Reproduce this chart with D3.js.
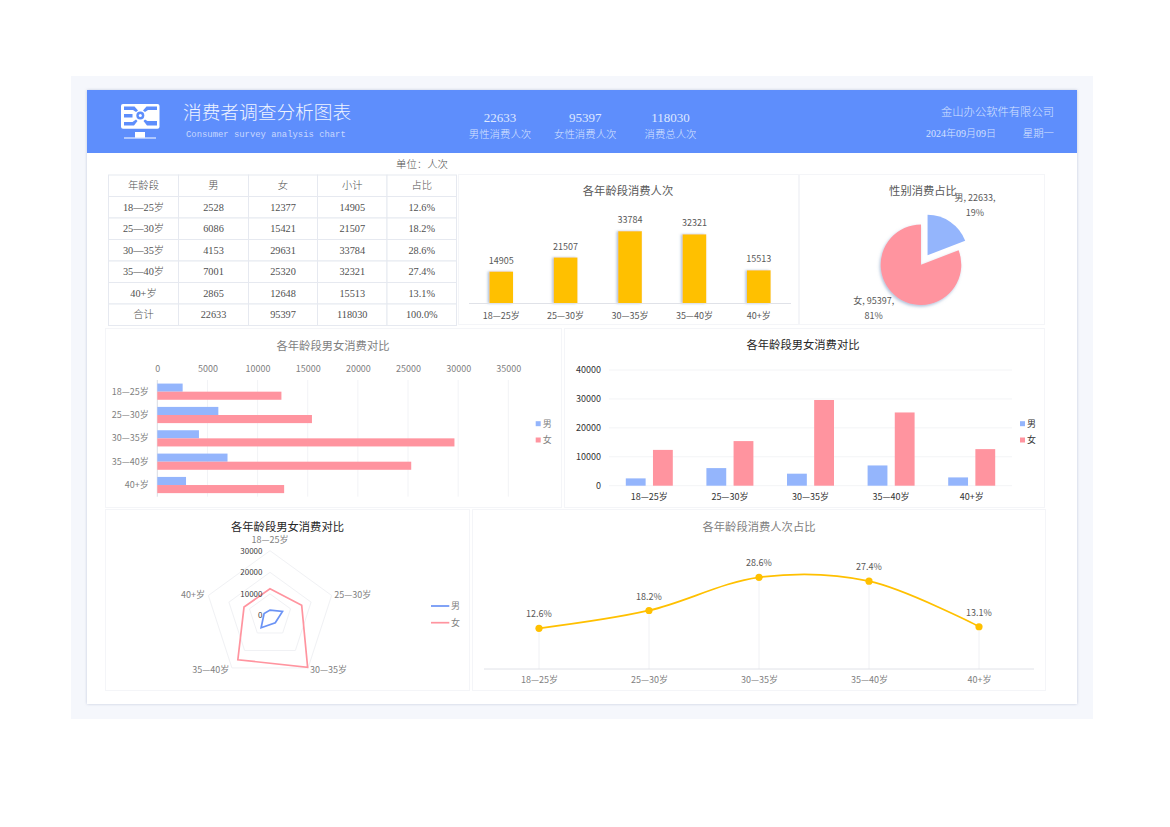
<!DOCTYPE html>
<html>
<head>
<meta charset="utf-8">
<script src="https://cdn.jsdelivr.net/npm/d3@7"></script>
<style>
html,body{margin:0;padding:0;background:#fff;}
svg{display:block;}
text{font-family:"Noto Sans CJK SC","Noto Sans",sans-serif;}
text.thin{font-weight:300;}
.song{font-family:"Liberation Serif","Noto Sans CJK SC",serif;font-weight:300;}
.mono{font-family:"Liberation Mono","Noto Sans CJK SC",monospace;}
.tick text{font-size:9px;}
</style>
</head>
<body>
<script>
var ages = ["18—25岁","25—30岁","30—35岁","35—40岁","40+岁"];
var male = [2528,6086,4153,7001,2865];
var female = [12377,15421,29631,25320,12648];
var subtotal = [14905,21507,33784,32321,15513];
var share = [12.6,18.2,28.6,27.4,13.1];
var totals = [22633,95397,118030];
var tableHead = ["年龄段","男","女","小计","占比"];
var genders = ["男","女"];
var radarTicks = [0,10000,20000,30000];
var pieLabels = [["男, 22633,","19%"],["女, 95397,","81%"]];

var BLUE = "#94b5fc", PINK = "#ff949f", GOLD = "#ffc000", HEAD = "#5e8efc";
var GREY = "#7f7f7f", DARK = "#595959";

var svg = d3.select("body").append("svg").attr("width",1170).attr("height",827);
var defs = svg.append("defs");
defs.append("filter").attr("id","cardShadow")
  .attr("x","-2%").attr("y","-2%").attr("width","104%").attr("height","104%")
  .append("feDropShadow").attr("dx",0).attr("dy",0).attr("stdDeviation",1.5)
  .attr("flood-color","#aab4cc").attr("flood-opacity",.7);
defs.append("filter").attr("id","barShadow")
  .attr("x","-30%").attr("y","-10%").attr("width","150%").attr("height","120%")
  .append("feDropShadow").attr("dx",-1.5).attr("dy",0).attr("stdDeviation",1.2)
  .attr("flood-color","#6d8cb8").attr("flood-opacity",.55);
defs.append("filter").attr("id","pieShadow")
  .attr("x","-20%").attr("y","-20%").attr("width","140%").attr("height","140%")
  .append("feDropShadow").attr("dx",-1).attr("dy",1.5).attr("stdDeviation",1.5)
  .attr("flood-color","#6d8cb8").attr("flood-opacity",.55);

function label(g,x,y,str,size,color,anchor,cls){
  return g.append("text").attr("x",x).attr("y",y).attr("dy",".35em")
    .attr("font-size",size).attr("fill",color).attr("text-anchor",anchor||"middle")
    .attr("class",cls||null).text(str);
}
function panel(x,y,w,h){
  svg.append("rect").attr("x",x-.5).attr("y",y-.5).attr("width",w+1).attr("height",h+1)
    .attr("fill","#fff").attr("stroke","#f4f5f8");
}
function cleanAxis(g,color){
  g.select(".domain").remove();
  g.selectAll(".tick line").remove();
  g.selectAll(".tick text").attr("fill",color);
}
function legendSwatches(x,ys,color){
  genders.forEach(function(d,i){
    svg.append("rect").attr("x",x).attr("y",ys(d)-2.5).attr("width",5).attr("height",5)
      .attr("fill",i==0?BLUE:PINK);
    label(svg,x+7,ys(d),d,9,color,"start");
  });
}

// page and header
svg.append("rect").attr("x",71).attr("y",76).attr("width",1022).attr("height",643).attr("fill","#f5f7fc");
svg.append("rect").attr("x",87).attr("y",90).attr("width",990).attr("height",614).attr("fill","#fff").attr("filter","url(#cardShadow)");
svg.append("rect").attr("x",87).attr("y",90).attr("width",990).attr("height",63).attr("fill",HEAD);

var icon = svg.append("g").attr("fill","#fff");
icon.append("rect").attr("x",121).attr("y",104).attr("width",38.5).attr("height",24.7).attr("rx",2);
icon.append("rect").attr("x",135).attr("y",132).attr("width",10).attr("height",5.7);
icon.append("rect").attr("x",124).attr("y",137.5).attr("width",32).attr("height",1);
var cut = svg.append("g").attr("fill",HEAD);
cut.append("path").attr("d","M124 106.5H134.5L138 110.5L136 112L133 110H124Z M124 114H132.5V117.5H124Z M124 122H132.5L136 119.5L137.5 121L134 125.5H124Z M157 106.5H146.5L143 110.5L145 112L148 110H157Z M157 121H147.5L145 119.5L143.5 121L147 125.5H157Z");
cut.append("circle").attr("cx",140.3).attr("cy",115.5).attr("r",4);
svg.append("circle").attr("cx",140.3).attr("cy",115.5).attr("r",1.5).attr("fill","#fff");

label(svg,183,112,"消费者调查分析图表",18.7,"#eef3ff","start","thin");
label(svg,186,133.5,"Consumer survey analysis chart",8.9,"#c9d8fe","start","mono");
var kpiX = d3.scalePoint().domain([0,1,2]).range([500,670.5]);
var kpiNames = ["男性消费人次","女性消费人次","消费总人次"];
totals.forEach(function(d,i){
  label(svg,kpiX(i),117.5,d,13,"#dfe8ff","middle","song");
  label(svg,kpiX(i),134,kpiNames[i],10.4,"#d8e3ff","middle","thin");
});
label(svg,1054,112,"金山办公软件有限公司",11.3,"#d8e3ff","end","thin");
label(svg,926,133.5,"2024年09月09日",10,"#d8e3ff","start","song");
label(svg,1054,133.5,"星期一",10.4,"#d8e3ff","end","thin");

// table
label(svg,422,164,"单位：人次",10.4,"#505050","middle","thin");
var rows = [tableHead];
ages.forEach(function(a,i){
  rows.push([a,male[i],female[i],subtotal[i],share[i].toFixed(1)+"%"]);
});
rows.push(["合计",totals[0],totals[1],totals[2],"100.0%"]);
var colEdge = [108.5,178.5,248.5,317.5,387,456.5];
var rowEdge = d3.scaleLinear().domain([0,7]).range([175,325.5]);
var tbl = svg.append("g");
rows.forEach(function(row,r){
  row.forEach(function(v,c){
    tbl.append("rect").attr("x",colEdge[c]).attr("y",rowEdge(r))
      .attr("width",colEdge[c+1]-colEdge[c]).attr("height",rowEdge(r+1)-rowEdge(r))
      .attr("fill","#fff").attr("stroke","#e6e9f0");
    label(tbl,(colEdge[c]+colEdge[c+1])/2,(rowEdge(r)+rowEdge(r+1))/2,v,10.3,"#505050","middle","song");
  });
});

// total bars
panel(459,175,339,149);
label(svg,628,191,"各年龄段消费人次",11.3,DARK);
var x1 = d3.scaleBand().domain(ages).range([469,791]);
var y1 = d3.scaleLinear().domain([0,40000]).range([303.5,217.9]);
var bar1W = 23.7;
svg.selectAll(".total").data(subtotal).enter().append("rect").attr("class","total")
  .attr("x",function(d,i){return x1(ages[i])+x1.bandwidth()/2-bar1W/2;})
  .attr("y",function(d){return y1(d);})
  .attr("width",bar1W)
  .attr("height",function(d){return y1(0)-y1(d);})
  .attr("fill",GOLD).attr("filter","url(#barShadow)");
subtotal.forEach(function(d,i){
  label(svg,x1(ages[i])+x1.bandwidth()/2,y1(d)-11,d,9,DARK);
});
svg.append("line").attr("x1",469).attr("x2",791).attr("y1",303.5).attr("y2",303.5).attr("stroke","#e0e2e8");
svg.append("g").attr("transform","translate(0,303.5)").call(d3.axisBottom(x1).tickSize(0).tickPadding(9))
  .call(cleanAxis,DARK);

// gender pie
panel(800,175,244,149);
label(svg,923,191,"性别消费占比",11.3,DARK);
var pieData = d3.pie().sort(null)(totals.slice(0,2));
var arc = d3.arc().innerRadius(0).outerRadius(40.3);
var pieG = svg.append("g").attr("transform","translate(921,264.7)");
pieG.selectAll("path").data(pieData).enter().append("path")
  .attr("d",arc)
  .attr("fill",function(d,i){return i==0?BLUE:PINK;})
  .attr("filter",function(d,i){return i==0?null:"url(#pieShadow)";})
  .attr("transform",function(d,i){
    if(i!=0) return null;
    var mid = (d.startAngle+d.endAngle)/2;
    return "translate("+(Math.sin(mid)*11.6)+","+(-Math.cos(mid)*11.6)+")";
  });
pieLabels[0].forEach(function(s,i){ label(svg,975,198+i*14.7,s,9,DARK); });
pieLabels[1].forEach(function(s,i){ label(svg,873.7,301+i*14.7,s,9,DARK); });

// horizontal bars
panel(106,329,455,178);
label(svg,333,346,"各年龄段男女消费对比",11.3,GREY);
var x2 = d3.scaleLinear().domain([0,35000]).range([157.3,508.3]);
var y2 = d3.scaleBand().domain(ages).range([380,496.7]);
var y2in = d3.scaleBand().domain(genders).range([0,16.2]);
var pad2 = (y2.bandwidth()-16.2)/2;
svg.append("g").selectAll("line").data(x2.ticks(7)).enter().append("line")
  .attr("x1",function(d){return x2(d);}).attr("x2",function(d){return x2(d);})
  .attr("y1",380).attr("y2",496.7).attr("stroke",function(d){return d==0?"#d9dce3":"#f2f3f6";});
[male,female].forEach(function(series,s){
  svg.append("g").selectAll("rect").data(series).enter().append("rect")
    .attr("x",x2(0))
    .attr("y",function(d,i){return y2(ages[i])+pad2+y2in(genders[s]);})
    .attr("width",function(d){return x2(d)-x2(0);})
    .attr("height",y2in.bandwidth())
    .attr("fill",s==0?BLUE:PINK);
});
svg.append("g").attr("transform","translate(0,372)")
  .call(d3.axisTop(x2).tickValues(x2.ticks(7)).tickSize(0).tickPadding(0).tickFormat(d3.format("d")))
  .call(cleanAxis,GREY);
svg.append("g").attr("transform","translate(157.3,0)").call(d3.axisLeft(y2).tickSize(0).tickPadding(8.5))
  .call(cleanAxis,GREY);
legendSwatches(535.7,d3.scalePoint().domain(genders).range([423.7,440]),GREY);

// vertical bars
panel(565,329,479,178);
label(svg,803,345,"各年龄段男女消费对比",11.3,"#262626");
var x3 = d3.scaleBand().domain(ages).range([609,1012]);
var x3in = d3.scaleBand().domain(genders).range([0,47]).paddingInner(.27);
var y3 = d3.scaleLinear().domain([0,40000]).range([485.7,370]);
svg.append("g").selectAll("line").data(y3.ticks(4)).enter().append("line")
  .attr("x1",609).attr("x2",1012)
  .attr("y1",function(d){return y3(d);}).attr("y2",function(d){return y3(d);})
  .attr("stroke","#f3f4f6");
[male,female].forEach(function(series,s){
  svg.append("g").selectAll("rect").data(series).enter().append("rect")
    .attr("x",function(d,i){return x3(ages[i])+x3.bandwidth()/2-23.5+x3in(genders[s]);})
    .attr("y",function(d){return y3(d);})
    .attr("width",x3in.bandwidth())
    .attr("height",function(d){return y3(0)-y3(d);})
    .attr("fill",s==0?BLUE:PINK);
});
svg.append("g").attr("transform","translate(609,0)")
  .call(d3.axisLeft(y3).ticks(4).tickSize(0).tickPadding(8).tickFormat(d3.format("d")))
  .call(cleanAxis,"#333");
svg.append("g").attr("transform","translate(0,485.7)").call(d3.axisBottom(x3).tickSize(0).tickPadding(8))
  .call(cleanAxis,"#333");
legendSwatches(1020,d3.scalePoint().domain(genders).range([423.7,440]),"#333");

// radar
panel(106,510,363,180);
label(svg,287.5,527,"各年龄段男女消费对比",11.3,"#262626");
var radarG = svg.append("g").attr("transform","translate(270,615.5)");
var rr = d3.scaleLinear().domain([0,30000]).range([0,64.8]);
var ang = d3.scalePoint().domain(ages).range([0,Math.PI*2*4/5]);
var radial = d3.lineRadial().curve(d3.curveLinearClosed);
radarTicks.slice(1).forEach(function(t){
  radarG.append("path").attr("fill","none").attr("stroke","#f0f1f4")
    .attr("d",radial(ages.map(function(a){return [ang(a),rr(t)];})));
});
[[male,"#6b93f5"],[female,"#ff949f"]].forEach(function(s){
  radarG.append("path").attr("fill","none").attr("stroke",s[1]).attr("stroke-width",1.7)
    .attr("d",radial(s[0].map(function(v,i){return [ang(ages[i]),rr(v)];})));
});
radarTicks.forEach(function(t){
  label(radarG,-7.5,-rr(t),t,8,"#404040","end");
});
label(svg,270,540,ages[0],9,GREY);
label(svg,334.3,595,ages[1],9,GREY,"start");
label(svg,310,670,ages[2],9,GREY,"start");
label(svg,229.3,670,ages[3],9,GREY,"end");
label(svg,205,595,ages[4],9,GREY,"end");
var radarLegend = d3.scalePoint().domain(genders).range([606,622.7]);
genders.forEach(function(g,i){
  svg.append("line").attr("x1",431).attr("x2",449.3).attr("y1",radarLegend(g)).attr("y2",radarLegend(g))
    .attr("stroke",i==0?"#6b93f5":"#ff949f").attr("stroke-width",1.7);
  label(svg,451,radarLegend(g),g,9,GREY,"start");
});

// share line
panel(473,510,572,180);
label(svg,759,527,"各年龄段消费人次占比",11.3,GREY);
var x4 = d3.scalePoint().domain(ages).range([539,979]);
var y4 = d3.scaleLinear().domain([0,40]).range([668.5,541]);
share.forEach(function(d,i){
  svg.append("line").attr("x1",x4(ages[i])).attr("x2",x4(ages[i])).attr("y1",y4(d)).attr("y2",669)
    .attr("stroke","#f0f1f4");
});
svg.append("line").attr("x1",484).attr("x2",1034).attr("y1",669).attr("y2",669).attr("stroke","#e0e2e8");
var line4 = d3.line().x(function(d,i){return x4(ages[i]);}).y(function(d){return y4(d);})
  .curve(d3.curveCatmullRom.alpha(.5));
svg.append("path").datum(share).attr("fill","none").attr("stroke",GOLD).attr("stroke-width",1.8).attr("d",line4);
svg.selectAll(".pt").data(share).enter().append("circle").attr("class","pt")
  .attr("cx",function(d,i){return x4(ages[i]);}).attr("cy",function(d){return y4(d);})
  .attr("r",3.6).attr("fill",GOLD);
share.forEach(function(d,i){
  label(svg,x4(ages[i]),y4(d)-14,d.toFixed(1)+"%",9,DARK);
});
svg.append("g").attr("transform","translate(0,669)").call(d3.axisBottom(x4).tickSize(0).tickPadding(8))
  .call(cleanAxis,GREY);
</script>
</body>
</html>
